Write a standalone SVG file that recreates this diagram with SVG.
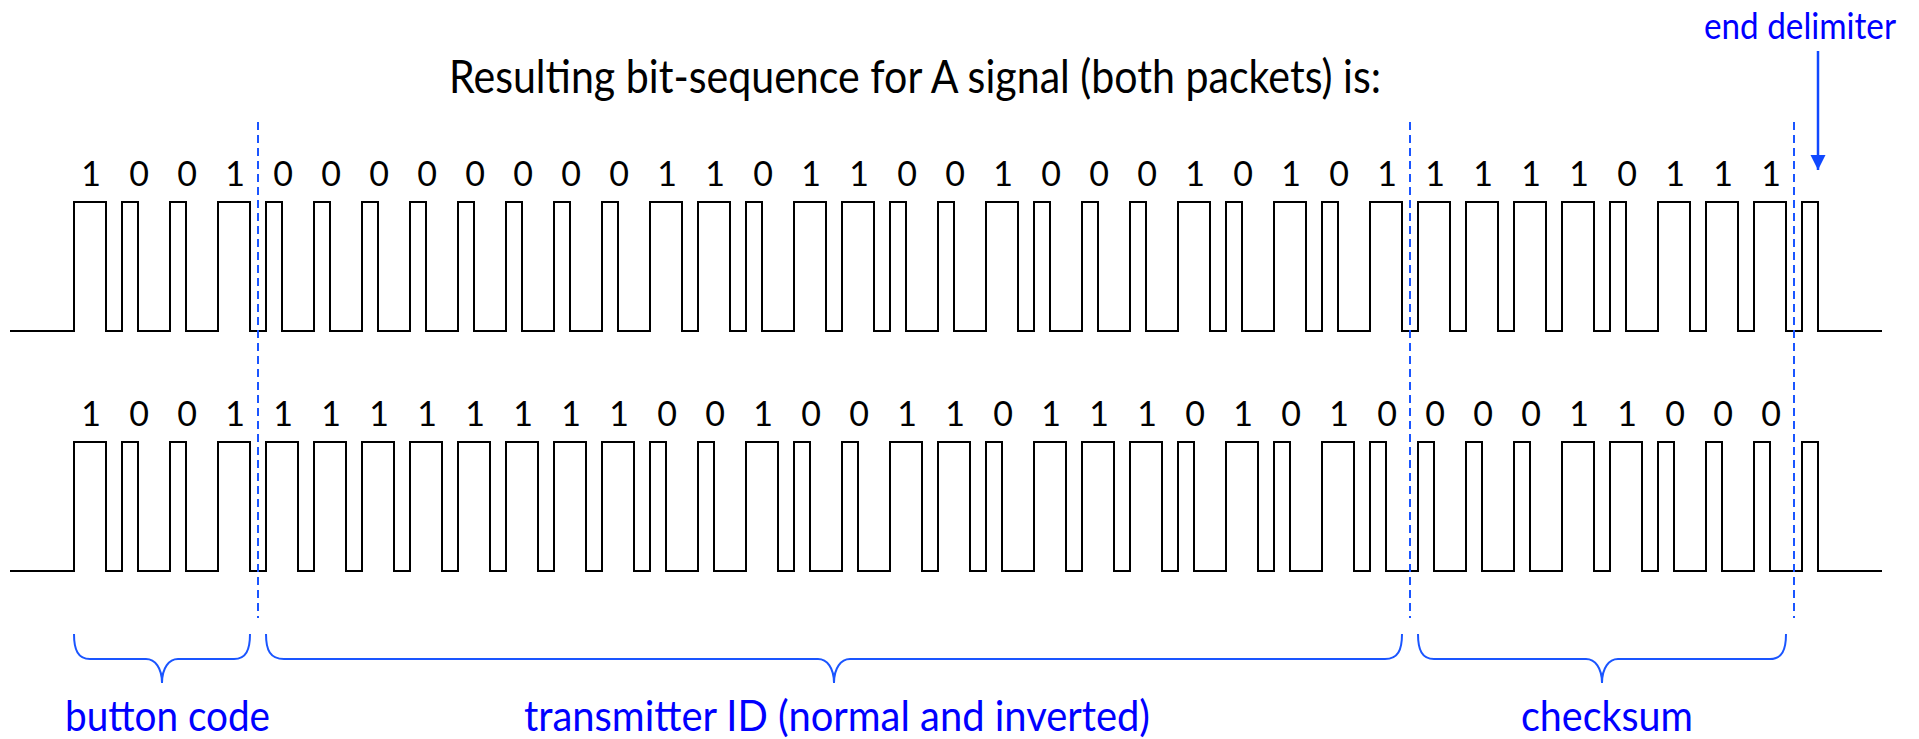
<svg xmlns="http://www.w3.org/2000/svg" width="1919" height="739" viewBox="0 0 1919 739">
  <style>
    .wave { fill: none; stroke: #000; stroke-width: 2; stroke-linejoin: miter; }
    .bit { font-family: Lato, "Liberation Sans", sans-serif; font-size: 34px; fill: #000; text-anchor: middle; }
    .title { font-family: Lato, "Liberation Sans", sans-serif; font-size: 46px; fill: #000; }
    .note { font-family: Lato, "Liberation Sans", sans-serif; font-size: 42px; fill: #0000ff; }
    .note-top { font-family: Lato, "Liberation Sans", sans-serif; font-size: 37px; fill: #0000ff; }
    .divider { fill: none; stroke: #1a55ff; stroke-width: 2; stroke-dasharray: 8 5; }
    .brace { fill: none; stroke: #1a55ff; stroke-width: 2; }
    .pointer { fill: none; stroke: #1048ff; stroke-width: 2.5; }
  </style>
  <defs>
    <marker id="arrowhead" markerUnits="userSpaceOnUse" markerWidth="16" markerHeight="16" refX="15" refY="7.5" orient="auto">
      <path d="M0,0 L15,7.5 L0,15 Z" fill="#1048ff"/>
    </marker>
  </defs>

  <rect width="1919" height="739" fill="#fff"/>

  <g id="title">
    <text class="title" x="449" y="93" textLength="932" lengthAdjust="spacingAndGlyphs">Resulting bit-sequence for A signal (both packets) is:</text>
  </g>

  <!-- packet 1: button code 1001, ID, checksum, end delimiter; bit cell = 48px -->
  <g id="packet-1">
    <path class="wave" d="M10,331 h64
      v-129h32v129h16 v-129h16v129h32 v-129h16v129h32 v-129h32v129h16
      v-129h16v129h32 v-129h16v129h32 v-129h16v129h32 v-129h16v129h32
      v-129h16v129h32 v-129h16v129h32 v-129h16v129h32 v-129h16v129h32
      v-129h32v129h16 v-129h32v129h16 v-129h16v129h32 v-129h32v129h16
      v-129h32v129h16 v-129h16v129h32 v-129h16v129h32 v-129h32v129h16
      v-129h16v129h32 v-129h16v129h32 v-129h16v129h32 v-129h32v129h16
      v-129h16v129h32 v-129h32v129h16 v-129h16v129h32 v-129h32v129h16
      v-129h32v129h16 v-129h32v129h16 v-129h32v129h16 v-129h32v129h16
      v-129h16v129h32 v-129h32v129h16 v-129h32v129h16 v-129h32v129h16
      v-129h16v129h64"/>
    <g id="packet-1-bits">
      <text class="bit" x="91" y="186">1</text><text class="bit" x="139" y="186">0</text><text class="bit" x="187" y="186">0</text><text class="bit" x="235" y="186">1</text>
      <text class="bit" x="283" y="186">0</text><text class="bit" x="331" y="186">0</text><text class="bit" x="379" y="186">0</text><text class="bit" x="427" y="186">0</text>
      <text class="bit" x="475" y="186">0</text><text class="bit" x="523" y="186">0</text><text class="bit" x="571" y="186">0</text><text class="bit" x="619" y="186">0</text>
      <text class="bit" x="667" y="186">1</text><text class="bit" x="715" y="186">1</text><text class="bit" x="763" y="186">0</text><text class="bit" x="811" y="186">1</text>
      <text class="bit" x="859" y="186">1</text><text class="bit" x="907" y="186">0</text><text class="bit" x="955" y="186">0</text><text class="bit" x="1003" y="186">1</text>
      <text class="bit" x="1051" y="186">0</text><text class="bit" x="1099" y="186">0</text><text class="bit" x="1147" y="186">0</text><text class="bit" x="1195" y="186">1</text>
      <text class="bit" x="1243" y="186">0</text><text class="bit" x="1291" y="186">1</text><text class="bit" x="1339" y="186">0</text><text class="bit" x="1387" y="186">1</text>
      <text class="bit" x="1435" y="186">1</text><text class="bit" x="1483" y="186">1</text><text class="bit" x="1531" y="186">1</text><text class="bit" x="1579" y="186">1</text>
      <text class="bit" x="1627" y="186">0</text><text class="bit" x="1675" y="186">1</text><text class="bit" x="1723" y="186">1</text><text class="bit" x="1771" y="186">1</text>
    </g>
  </g>

  <!-- packet 2: same button code, inverted ID, checksum, end delimiter -->
  <g id="packet-2">
    <path class="wave" d="M10,571 h64
      v-129h32v129h16 v-129h16v129h32 v-129h16v129h32 v-129h32v129h16
      v-129h32v129h16 v-129h32v129h16 v-129h32v129h16 v-129h32v129h16
      v-129h32v129h16 v-129h32v129h16 v-129h32v129h16 v-129h32v129h16
      v-129h16v129h32 v-129h16v129h32 v-129h32v129h16 v-129h16v129h32
      v-129h16v129h32 v-129h32v129h16 v-129h32v129h16 v-129h16v129h32
      v-129h32v129h16 v-129h32v129h16 v-129h32v129h16 v-129h16v129h32
      v-129h32v129h16 v-129h16v129h32 v-129h32v129h16 v-129h16v129h32
      v-129h16v129h32 v-129h16v129h32 v-129h16v129h32 v-129h32v129h16
      v-129h32v129h16 v-129h16v129h32 v-129h16v129h32 v-129h16v129h32
      v-129h16v129h64"/>
    <g id="packet-2-bits">
      <text class="bit" x="91" y="426">1</text><text class="bit" x="139" y="426">0</text><text class="bit" x="187" y="426">0</text><text class="bit" x="235" y="426">1</text>
      <text class="bit" x="283" y="426">1</text><text class="bit" x="331" y="426">1</text><text class="bit" x="379" y="426">1</text><text class="bit" x="427" y="426">1</text>
      <text class="bit" x="475" y="426">1</text><text class="bit" x="523" y="426">1</text><text class="bit" x="571" y="426">1</text><text class="bit" x="619" y="426">1</text>
      <text class="bit" x="667" y="426">0</text><text class="bit" x="715" y="426">0</text><text class="bit" x="763" y="426">1</text><text class="bit" x="811" y="426">0</text>
      <text class="bit" x="859" y="426">0</text><text class="bit" x="907" y="426">1</text><text class="bit" x="955" y="426">1</text><text class="bit" x="1003" y="426">0</text>
      <text class="bit" x="1051" y="426">1</text><text class="bit" x="1099" y="426">1</text><text class="bit" x="1147" y="426">1</text><text class="bit" x="1195" y="426">0</text>
      <text class="bit" x="1243" y="426">1</text><text class="bit" x="1291" y="426">0</text><text class="bit" x="1339" y="426">1</text><text class="bit" x="1387" y="426">0</text>
      <text class="bit" x="1435" y="426">0</text><text class="bit" x="1483" y="426">0</text><text class="bit" x="1531" y="426">0</text><text class="bit" x="1579" y="426">1</text>
      <text class="bit" x="1627" y="426">1</text><text class="bit" x="1675" y="426">0</text><text class="bit" x="1723" y="426">0</text><text class="bit" x="1771" y="426">0</text>
    </g>
  </g>

  <!-- field boundaries -->
  <g id="dividers">
    <line class="divider" x1="258" y1="122" x2="258" y2="618"/>
    <line class="divider" x1="1410" y1="122" x2="1410" y2="618"/>
    <line class="divider" x1="1794" y1="122" x2="1794" y2="618"/>
  </g>

  <!-- field braces -->
  <g id="braces">
    <path id="brace-button" class="brace" d="M74,634 C74,650 78,659 90,659 H146 C155,659 162,668 162,683 C162,668 169,659 178,659 H234 C246,659 250,650 250,634"/>
    <path id="brace-id" class="brace" d="M266,634 C266,650 270,659 284,659 H818 C827,659 834,668 834,683 C834,668 841,659 850,659 H1385 C1398,659 1402,650 1402,634"/>
    <path id="brace-checksum" class="brace" d="M1418,634 C1418,650 1422,659 1434,659 H1586 C1595,659 1602,668 1602,683 C1602,668 1609,659 1618,659 H1770 C1782,659 1786,650 1786,634"/>
  </g>

  <g id="labels">
    <text id="label-button" class="note" x="65" y="731" textLength="205" lengthAdjust="spacingAndGlyphs">button code</text>
    <text id="label-id" class="note" x="524" y="731" textLength="626" lengthAdjust="spacingAndGlyphs">transmitter ID (normal and inverted)</text>
    <text id="label-checksum" class="note" x="1521" y="731" textLength="172" lengthAdjust="spacingAndGlyphs">checksum</text>
    <text id="label-end" class="note-top" x="1704" y="39" textLength="192" lengthAdjust="spacingAndGlyphs">end delimiter</text>
  </g>

  <g id="connectors">
    <line class="pointer" x1="1818" y1="51" x2="1818" y2="170" marker-end="url(#arrowhead)"/>
  </g>
</svg>
